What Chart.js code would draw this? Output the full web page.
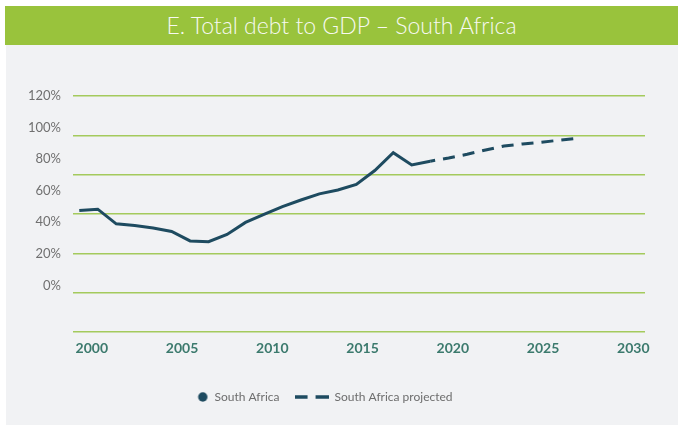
<!DOCTYPE html>
<html>
<head>
<meta charset="utf-8">
<script src="https://cdn.jsdelivr.net/npm/chart.js@4.4.1/dist/chart.umd.min.js"></script>
<style>
  html, body { margin: 0; padding: 0; background: #fff; overflow: hidden; }
  body { width: 678px; height: 426px; position: relative; }
  #panel { position: absolute; left: 6px; top: 45px; width: 672px; height: 380px; background: #f1f2f4; }
  #title { position: absolute; left: 5px; top: 6px; width: 673px; height: 39px; background: #99c33c;
           color: #f7f9f2; font: 300 23px Lato, "Open Sans", sans-serif; text-align: center; line-height: 38px; }
  #chart { position: absolute; left: -51px; top: 0; }
</style>
</head>
<body>
<div id="panel"></div>
<div id="title">E. Total debt to GDP – South Africa</div>
<canvas id="chart" width="729" height="440"></canvas>
<script>
// actual
var years = [2000, 2001, 2002, 2003, 2004, 2005, 2006, 2007, 2008, 2009,
             2010, 2011, 2012, 2013, 2014, 2015, 2016, 2017, 2018, 2019];
var debt = [47.4, 48.3, 39.0, 38.0, 36.4, 34.2, 28.2, 27.7, 32.3, 39.9,
            45.0, 49.9, 54.1, 58.0, 60.5, 64.0, 72.8, 84.1, 76.3, 78.7];
// projected
var projYears = [2019, 2020, 2021, 2022, 2023, 2024, 2025, 2026, 2027];
var projDebt = [78.7, 80.7, 83.1, 85.8, 88.3, 89.6, 90.7, 92.0, 93.2];

var yTicks = [0, 20, 40, 60, 80, 100, 120];
var xTicks = [2000, 2005, 2010, 2015, 2020, 2025, 2030];

var navy = '#1e4b60';

function pts(xs, ys) {
    return xs.map(function (x, i) { return { x: x, y: ys[i] }; });
}

// legend symbols
var dot = document.createElement('canvas');
dot.width = 34; dot.height = 12;
var c = dot.getContext('2d');
c.fillStyle = navy;
c.beginPath(); c.arc(28.3, 6, 4.7, 0, Math.PI * 2); c.fill();

var dash = document.createElement('canvas');
dash.width = 34; dash.height = 12;
c = dash.getContext('2d');
c.strokeStyle = navy; c.lineWidth = 3.3;
c.beginPath(); c.moveTo(0, 6); c.lineTo(13, 6); c.moveTo(21, 6); c.lineTo(34, 6); c.stroke();

var ctx = document.getElementById('chart').getContext('2d');
var myChart = new Chart(ctx, {
    type: 'line',
    data: {
        datasets: [{
            label: 'South Africa',
            data: pts(years, debt),
            borderColor: navy,
            borderWidth: 3,
            pointRadius: 0,
            tension: 0
        }, {
            label: 'South Africa projected',
            data: pts(projYears, projDebt),
            borderColor: navy,
            borderWidth: 3,
            borderDash: [12, 8],
            borderDashOffset: 7,
            pointRadius: 0,
            tension: 0
        }]
    },
    options: {
        responsive: false,
        animation: false,
        layout: { padding: { top: 96, bottom: 27, left: 0, right: 0 } },
        scales: {
            x: {
                type: 'linear', min: 1999.66, max: 2030.63, display: false
            },
            x2: {
                type: 'linear', position: 'bottom', min: 1998.96, max: 2030.65,
                afterBuildTicks: function (s) { s.ticks = xTicks.map(function (v) { return { value: v }; }); },
                afterFit: function (s) { s.height = 44; },
                grid: { display: false, drawTicks: false },
                border: { display: false },
                ticks: {
                    padding: 8, color: '#3c7a6d', maxRotation: 0,
                    font: { family: 'Lato', size: 14, weight: 'bold' },
                    callback: function (v) { return String(v); }
                }
            },
            y: {
                type: 'linear', position: 'left', min: -29.5, max: 120,
                afterBuildTicks: function (s) { s.ticks = yTicks.map(function (v) { return { value: v }; }); },
                afterFit: function (s) { s.width = 124; },
                grid: { display: false, drawTicks: false },
                border: { display: false },
                ticks: {
                    padding: 12, color: '#707070',
                    font: { family: 'Lato', size: 13 },
                    callback: function (v) { return v + '%'; }
                }
            },
            y2: {
                type: 'linear', position: 'right', min: 0, max: 6,
                afterFit: function (s) { s.width = 33; },
                ticks: { display: false, stepSize: 1 },
                grid: { color: '#a4ca5c', lineWidth: 1.5, drawTicks: false },
                border: { display: false }
            }
        },
        plugins: {
            title: { display: false },
            tooltip: { enabled: false },
            legend: {
                position: 'bottom',
                labels: {
                    usePointStyle: true,
                    pointStyleWidth: 34,
                    padding: 15,
                    color: '#6d6d6d',
                    font: { family: 'Lato', size: 12 },
                    generateLabels: function (chart) {
                        return chart.data.datasets.map(function (d, i) {
                            return {
                                text: d.label,
                                pointStyle: i === 0 ? dot : dash,
                                fontColor: '#6d6d6d',
                                datasetIndex: i,
                                hidden: false
                            };
                        });
                    }
                }
            }
        }
    }
});
</script>
</body>
</html>
